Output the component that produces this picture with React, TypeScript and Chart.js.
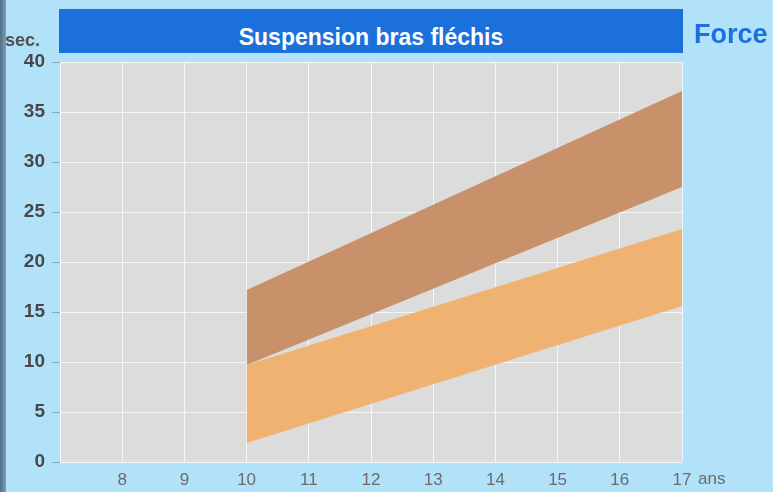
import React, { useEffect, useRef } from "react";
import { Chart, registerables } from "chart.js";

Chart.register(...registerables);

// Age (years) at band start / end
const ages = [10, 17];
// Upper (dark) band: seconds
const darkUpper = [17.2, 37.1];
const darkLower = [9.7, 27.5];
// Lower (light) band: seconds
const lightUpper = [9.7, 23.3];
const lightLower = [1.9, 15.6];

const xTicks = [8, 9, 10, 11, 12, 13, 14, 15, 16, 17];
const yTicks = [0, 5, 10, 15, 20, 25, 30, 35, 40];

const FONT = "'Liberation Sans', Arial, sans-serif";
const NARROW = "'Liberation Sans Narrow', 'Liberation Sans', Arial, sans-serif";

const pts = (ys: number[]) => ages.map((x, i) => ({ x, y: ys[i] }));

export default function App() {
  const ref = useRef<HTMLCanvasElement | null>(null);

  useEffect(() => {
    document.body.style.margin = "0";
    const canvas = ref.current!;
    const bgPlugin = {
      id: "plotBg",
      beforeDraw(chart: any) {
        const { ctx, chartArea: a } = chart;
        ctx.save();
        ctx.fillStyle = "#dcdcdd";
        ctx.fillRect(a.left, a.top, a.right - a.left, a.bottom - a.top);
        ctx.restore();
      },
    };
    const chart = new Chart(canvas, {
      type: "line",
      data: {
        datasets: [
          { data: pts(darkUpper), fill: "+1", backgroundColor: "#c8916a", borderWidth: 0, pointRadius: 0 },
          { data: pts(darkLower), fill: false, borderWidth: 0, pointRadius: 0 },
          { data: pts(lightUpper), fill: "+1", backgroundColor: "#f0b271", borderWidth: 0, pointRadius: 0 },
          { data: pts(lightLower), fill: false, borderWidth: 0, pointRadius: 0 },
        ],
      },
      options: {
        animation: false,
        responsive: false,
        devicePixelRatio: 1,
        layout: { padding: { left: 0, right: 91, top: 62, bottom: 0 } },
        plugins: { legend: { display: false }, title: { display: false }, tooltip: { enabled: false } },
        scales: {
          x: {
            type: "linear",
            min: 7,
            max: 17,
            z: 1,
            border: { display: false },
            grid: { color: "rgba(255,255,255,0.75)", lineWidth: 1, drawTicks: false },
            afterFit: (s: any) => { s.height = 30; },
            afterBuildTicks: (s: any) => { s.ticks = [7, ...xTicks].map((v) => ({ value: v })); },
            ticks: {
              padding: 8,
              color: "#6b6b6b",
              font: { family: FONT, size: 17 },
              callback: (v: any) => (xTicks.includes(v) ? String(v) : ""),
            },
          },
          y: {
            type: "linear",
            min: 0,
            max: 40,
            z: 1,
            border: { display: false },
            grid: {
              color: "rgba(255,255,255,0.75)",
              lineWidth: 1,
              tickLength: 8,
              tickColor: (ctx: any) =>
                ctx.tick && yTicks.includes(ctx.tick.value) ? "#86a9b8" : "rgba(0,0,0,0)",
            },
            afterFit: (s: any) => { s.width = 60; },
            ticks: {
              stepSize: 2.5,
              padding: 7,
              color: "#474747",
              font: { family: NARROW, size: 19, weight: "bold" },
              callback: (v: any) => (yTicks.includes(v) ? String(v) : ""),
            },
          },
        },
      },
      plugins: [bgPlugin],
    } as any);
    return () => chart.destroy();
  }, []);

  return (
    <div
      style={{
        position: "absolute",
        left: 0,
        top: 0,
        width: 773,
        height: 492,
        background: "#b2e2f9",
        overflow: "hidden",
        fontFamily: FONT,
      }}
    >
      <canvas ref={ref} width={773} height={492} style={{ position: "absolute", left: 0, top: 0, width: 773, height: 492 }} />
      <div
        style={{
          position: "absolute",
          left: 59,
          top: 9,
          width: 624,
          height: 44,
          background: "#1b70dc",
          color: "#ffffff",
          fontWeight: "bold",
          fontSize: 23,
          textAlign: "center",
          lineHeight: "44px",
          paddingTop: 6,
          boxSizing: "border-box",
          whiteSpace: "nowrap",
        }}
      >
        Suspension bras fléchis
      </div>
      <div
        style={{
          position: "absolute",
          left: 694,
          top: 20,
          color: "#1b70dc",
          fontWeight: "bold",
          fontSize: 27,
          lineHeight: "28px",
        }}
      >
        Force
      </div>
      <div
        style={{
          position: "absolute",
          left: 5,
          top: 31,
          color: "#4f4f4f",
          fontWeight: "bold",
          fontSize: 18,
          lineHeight: "19px",
        }}
      >
        sec.
      </div>
      <div
        style={{
          position: "absolute",
          left: 698,
          top: 469,
          color: "#6b6b6b",
          fontSize: 17,
          lineHeight: "19px",
        }}
      >
        ans
      </div>
      <div
        style={{
          position: "absolute",
          left: 0,
          top: 0,
          width: 6,
          height: 492,
          background: "linear-gradient(90deg, #4f6f86, #7d9fb6)",
        }}
      />
    </div>
  );
}
